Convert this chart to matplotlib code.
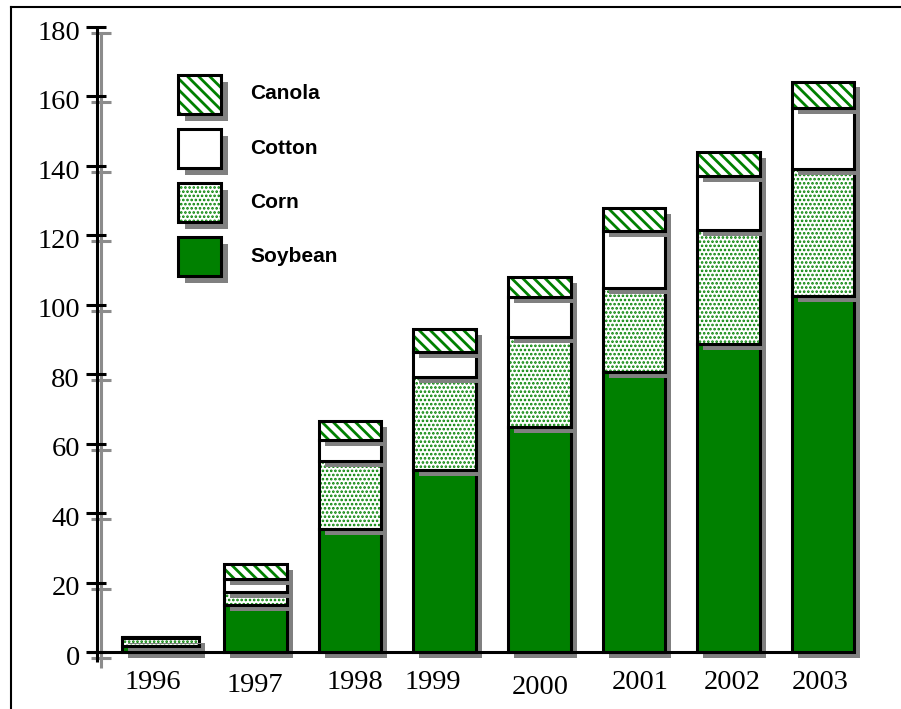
import numpy as np
import matplotlib
matplotlib.use("Agg")
import matplotlib.pyplot as plt
import matplotlib.patheffects as pe
from matplotlib.patches import Rectangle
from matplotlib.lines import Line2D
from matplotlib.transforms import offset_copy

# ---- data (million acres) ----
years = ["1996", "1997", "1998", "1999", "2000", "2001", "2002", "2003"]
soybean = [1.8, 13.5, 35.3, 52.4, 64.7, 80.7, 88.7, 102.5]
corn = [2.3, 3.8, 19.6, 26.9, 25.9, 24.1, 32.8, 36.6]
cotton = [0.1, 3.7, 6.2, 7.0, 11.7, 16.5, 15.6, 17.5]
canola = [0.1, 4.3, 5.4, 6.7, 5.6, 6.5, 7.0, 7.7]
y_ticks = [0, 20, 40, 60, 80, 100, 120, 140, 160, 180]

# ---- styling ----
GREEN = "#008000"
SHADOW = "#808080"
SERIF = "Liberation Serif"
SANS = "Liberation Sans"

W, H = 901, 709
DPI = 100
fig = plt.figure(figsize=(W / DPI, H / DPI), dpi=DPI)
fig.patch.set_facecolor("white")

# plot area in pixels: y = 0 at the bottom edge, y = 180 at the top edge
AX_L, AX_R = 97, 870
AX_T, AX_B = 27, 652
ax = fig.add_axes([AX_L / W, 1 - AX_B / H, (AX_R - AX_L) / W, (AX_B - AX_T) / H])
ax.set_axis_off()
ax.set_ylim(0, 180)

first_center, step = 160.7, 94.65
ax.set_xlim((AX_L - first_center) / step, (AX_R - first_center) / step)
ppu = (AX_B - AX_T) / 180.0  # pixels per data unit


def fx(px):
    return (px - AX_L) / (AX_R - AX_L)


x = np.arange(len(years))
widths = [0.81] + [0.66] * (len(years) - 1)

series = [
    ("Soybean", soybean, GREEN, None, 1.0),
    ("Corn", corn, "white", "....", 1.25),
    ("Cotton", cotton, "white", None, 1.0),
    ("Canola", canola, "white", "\\\\\\", 2.0),
]

bar_shadow = [pe.SimplePatchShadow(offset=(4.3, -4.3), shadow_rgbFace=SHADOW,
                                   alpha=1.0, hatch=None), pe.Normal()]

bottom = np.zeros(len(years))
for name, vals, face, hatch, hlw in series:
    vals = np.asarray(vals, dtype=float)
    with plt.rc_context({"hatch.linewidth": hlw}):
        fills = ax.bar(x, vals, width=widths, bottom=bottom, color=face,
                       edgecolor=GREEN, linewidth=0, hatch=hatch,
                       clip_on=False, path_effects=bar_shadow)
    for p in fills:
        if hasattr(p, "set_hatch_linewidth"):
            p.set_hatch_linewidth(hlw)
    ax.bar(x, vals, width=widths, bottom=bottom, facecolor="none",
           edgecolor="black", linewidth=2.2, clip_on=False)
    bottom += vals

# ---- axes drawn by hand: black line with a grey offset copy ----
yt = ax.get_yaxis_transform()
yt_grey = offset_copy(yt, fig=fig, x=0, y=-6, units="dots")
y_low = -10 / ppu

ax.add_line(Line2D([fx(101), fx(101)], [180, y_low], transform=yt_grey,
                   color="#8c8c8c", lw=2.2, clip_on=False, zorder=4,
                   solid_capstyle="butt"))
for v in y_ticks:
    ax.add_line(Line2D([fx(91), fx(111)], [v, v], transform=yt_grey,
                       color="#8c8c8c", lw=2.2, clip_on=False, zorder=4,
                       solid_capstyle="butt"))
ax.add_line(Line2D([0, 0], [180, y_low], transform=yt, color="black",
                   lw=2.2, clip_on=False, zorder=5, solid_capstyle="butt"))
for v in y_ticks:
    ax.add_line(Line2D([fx(86), fx(106)], [v, v], transform=yt,
                       color="black", lw=2.2, clip_on=False, zorder=5,
                       solid_capstyle="butt"))
    ax.text(0, v, str(v),
            transform=offset_copy(yt, fig=fig, x=-17, y=-12.7, units="dots"),
            ha="right", va="baseline", fontsize=20.5, family=SERIF)

ax.add_line(Line2D([fx(88), fx(800)], [0, 0], transform=yt, color="black",
                   lw=2.2, clip_on=False, zorder=5, solid_capstyle="butt"))

# year labels
label_dx = [-8, 0, 5, -12, 1, 6, 4, -3]
label_drop = [0, 3, 0, 0, 5, 0, 0, 0]
for i, yr in enumerate(years):
    ax.text(i, 0, yr,
            transform=offset_copy(ax.transData, fig=fig, x=label_dx[i],
                                  y=-(37 + label_drop[i]), units="dots"),
            ha="center", va="baseline", fontsize=20.5, family=SERIF)

# ---- legend ----
def fig_rect(px, py, pw, ph, **kw):
    return Rectangle((px / W, 1 - (py + ph) / H), pw / W, ph / H,
                     transform=fig.transFigure, **kw)


legend_rows = [("Canola", "white", "\\\\\\", 2.0, 75, 99),
               ("Cotton", "white", None, 1.0, 129, 154),
               ("Corn", "white", "....", 1.25, 183, 208),
               ("Soybean", GREEN, None, 1.0, 237, 262)]
legend_shadow = [pe.SimplePatchShadow(offset=(5.2, -5.2), shadow_rgbFace=SHADOW,
                                      alpha=1.0, hatch=None), pe.Normal()]
for label, face, hatch, hlw, top, base in legend_rows:
    with plt.rc_context({"hatch.linewidth": hlw}):
        r = fig_rect(178, top, 43, 39, facecolor=face, edgecolor=GREEN,
                     linewidth=0, hatch=hatch, path_effects=legend_shadow)
    if hasattr(r, "set_hatch_linewidth"):
        r.set_hatch_linewidth(hlw)
    fig.add_artist(r)
    fig.add_artist(fig_rect(178, top, 43, 39, facecolor="none",
                            edgecolor="black", linewidth=2.2))
    fig.text(250 / W, 1 - base / H, label, ha="left", va="baseline",
             fontsize=15, fontweight="bold", family=SANS)

# ---- outer frame (left and top edges) ----
fig.add_artist(Line2D([11 / W, 11 / W], [0, 1 - 7 / H], transform=fig.transFigure,
                      color="black", lw=1.5))
fig.add_artist(Line2D([11 / W, 1], [1 - 7 / H, 1 - 7 / H], transform=fig.transFigure,
                      color="black", lw=1.5))

fig.savefig("out.png", dpi=DPI, facecolor="white")
